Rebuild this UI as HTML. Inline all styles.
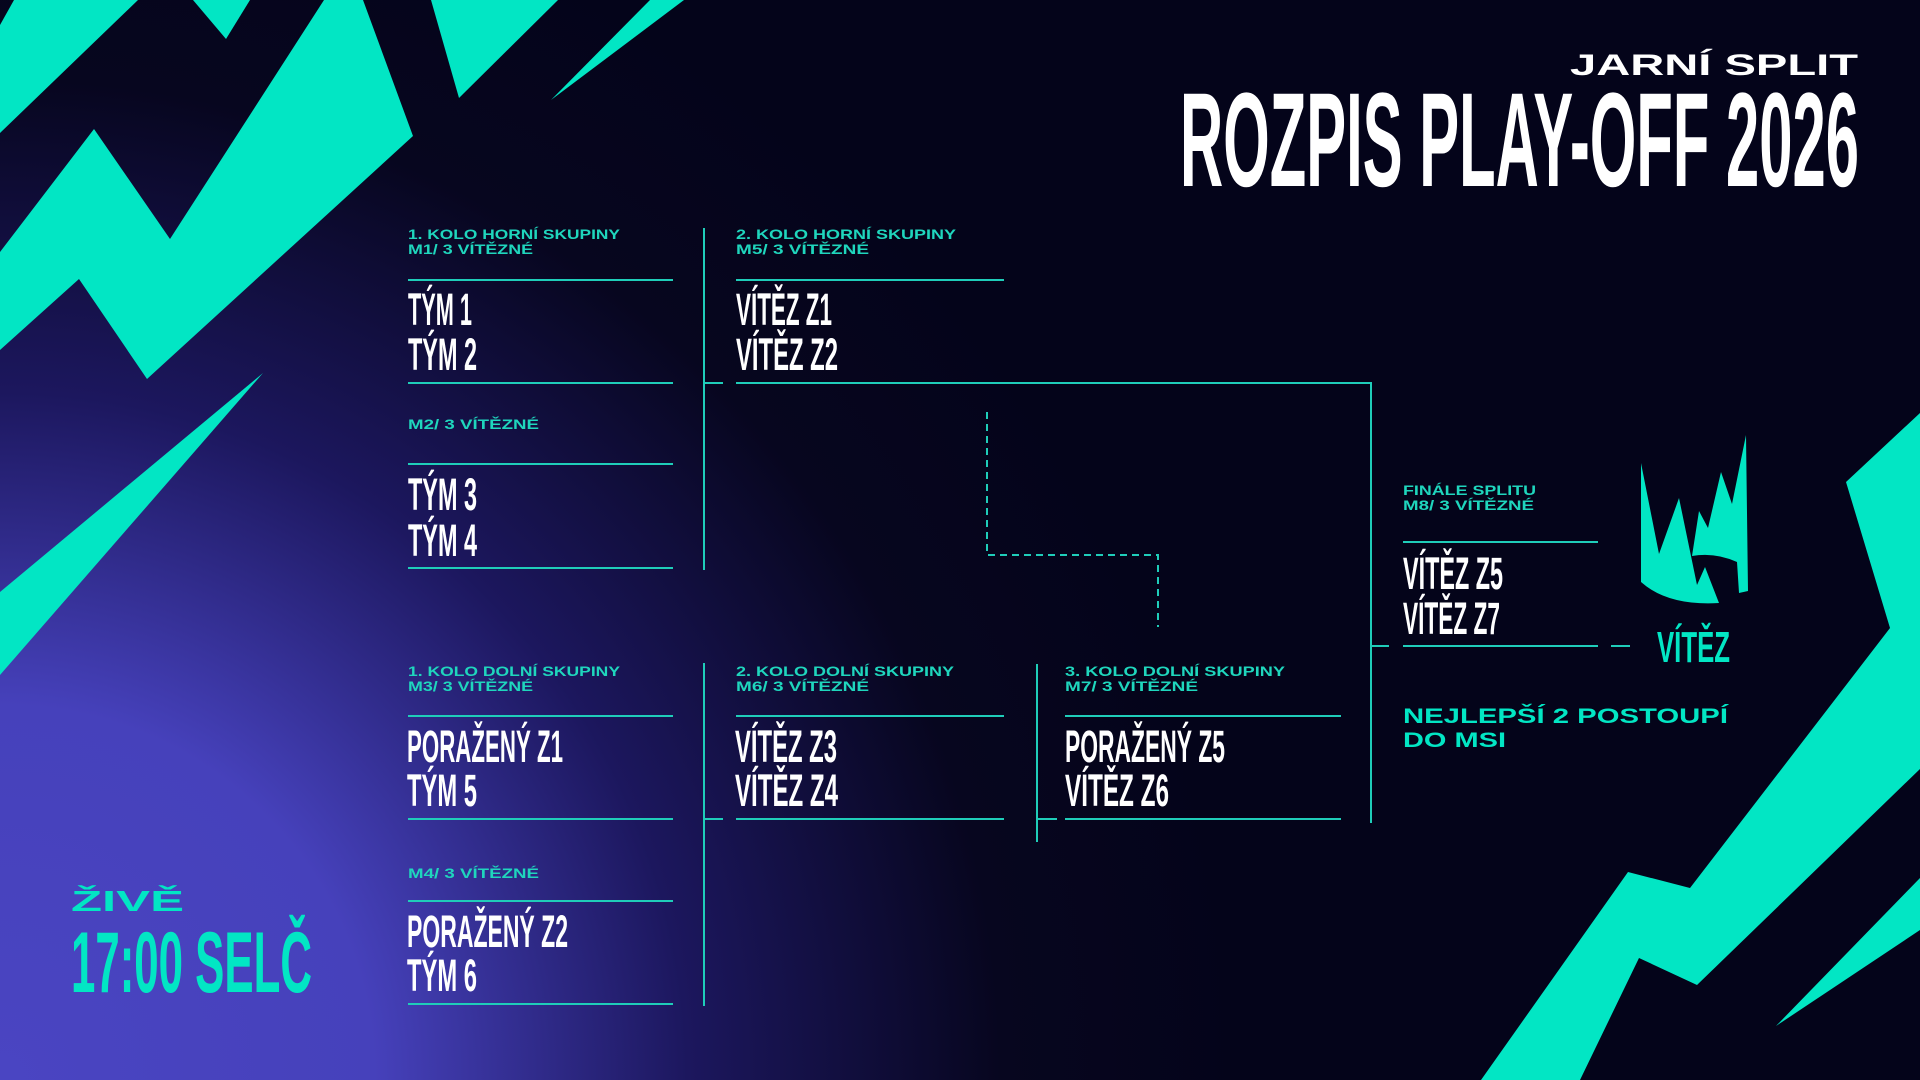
<!DOCTYPE html>
<html><head><meta charset="utf-8"><style>
html,body{margin:0;padding:0;width:1920px;height:1080px;overflow:hidden;background:#05051a}
svg{display:block}
.c{font-family:"Liberation Sans Narrow","Liberation Sans",sans-serif;font-weight:bold}
.w{font-family:"Liberation Sans",sans-serif;font-weight:bold}
</style></head><body>
<svg width="1920" height="1080" viewBox="0 0 1920 1080" xmlns="http://www.w3.org/2000/svg">
<defs>
<radialGradient id="bg" cx="0" cy="1080" r="1250" gradientUnits="userSpaceOnUse">
<stop offset="0" stop-color="#4a45c2"/>
<stop offset="0.3" stop-color="#4641bb"/>
<stop offset="0.55" stop-color="#1c175e"/>
<stop offset="0.8" stop-color="#07061f"/>
<stop offset="1" stop-color="#04041a"/>
</radialGradient>
</defs>
<rect width="1920" height="1080" fill="url(#bg)"/>
<g fill="#02e6c4">
<polygon points="14,0 138,0 0,133 0,25"/>
<polygon points="193,0 250,0 226,39"/>
<polygon points="0,252 94,129 170,239 324,0 363,0 413,136 147,379 79,279 0,350"/>
<polygon points="431,0 558,0 459,98"/>
<polygon points="650,0 684,0 551,100"/>
<polygon points="263,373 0,592 0,675"/>
<polygon points="1920,413 1846,482 1890,628 1690,888 1628,872 1481,1080 1580,1080 1639,958 1697,985 1920,769"/>
<polygon points="1920,878 1776,1026 1920,930"/>
<path d="M1641,463 L1659,554 L1679,498 L1697,585 L1705,567 L1719,603 Q1668,606 1641,582 Z"/>
<path d="M1692,556 L1699,511 L1708,528 L1721,472 L1732,504 L1746,435 L1748,591 L1739,593 L1737,562 Q1715,552 1692,556 Z"/>
</g>
<!-- title -->
<text class="w" x="1570" y="75" font-size="30" fill="#fff" textLength="288" lengthAdjust="spacingAndGlyphs">JARNÍ SPLIT</text>
<text class="c" x="1180" y="186" font-size="134" fill="#fff" textLength="679" lengthAdjust="spacingAndGlyphs">ROZPIS PLAY-OFF 2026</text>
<!-- lines -->
<g stroke="#1fcdb9" stroke-width="2" fill="none">
<line x1="408" y1="280" x2="673" y2="280"/><line x1="408" y1="383" x2="673" y2="383"/>
<line x1="408" y1="464" x2="673" y2="464"/><line x1="408" y1="568" x2="673" y2="568"/>
<line x1="408" y1="716" x2="673" y2="716"/><line x1="408" y1="819" x2="673" y2="819"/>
<line x1="408" y1="901" x2="673" y2="901"/><line x1="408" y1="1004" x2="673" y2="1004"/>
<line x1="704" y1="228" x2="704" y2="570"/><line x1="704" y1="383" x2="723" y2="383"/>
<line x1="704" y1="663" x2="704" y2="1006"/><line x1="704" y1="819" x2="723" y2="819"/>
<line x1="736" y1="280" x2="1004" y2="280"/><polyline points="736,383 1371,383 1371,823"/>
<line x1="736" y1="716" x2="1004" y2="716"/><line x1="736" y1="819" x2="1004" y2="819"/>
<line x1="1037" y1="664" x2="1037" y2="842"/><line x1="1037" y1="819" x2="1057" y2="819"/>
<line x1="1065" y1="716" x2="1341" y2="716"/><line x1="1065" y1="819" x2="1341" y2="819"/>
<line x1="1371" y1="646" x2="1389" y2="646"/>
<line x1="1403" y1="542" x2="1598" y2="542"/><line x1="1403" y1="646" x2="1598" y2="646"/>
<line x1="1611" y1="646" x2="1630" y2="646"/>
<polyline points="987,412 987,555 1158,555 1158,627" stroke-dasharray="7,5"/>
</g>
<!-- labels -->
<g class="w" fill="#1fd6bd" font-size="14">
<text x="408" y="239" textLength="212" lengthAdjust="spacingAndGlyphs">1. KOLO HORNÍ SKUPINY</text>
<text x="408" y="254" textLength="125" lengthAdjust="spacingAndGlyphs">M1/ 3 VÍTĚZNÉ</text>
<text x="408" y="429" textLength="131" lengthAdjust="spacingAndGlyphs">M2/ 3 VÍTĚZNÉ</text>
<text x="408" y="676" textLength="212" lengthAdjust="spacingAndGlyphs">1. KOLO DOLNÍ SKUPINY</text>
<text x="408" y="691" textLength="125" lengthAdjust="spacingAndGlyphs">M3/ 3 VÍTĚZNÉ</text>
<text x="408" y="878" textLength="131" lengthAdjust="spacingAndGlyphs">M4/ 3 VÍTĚZNÉ</text>
<text x="736" y="239" textLength="220" lengthAdjust="spacingAndGlyphs">2. KOLO HORNÍ SKUPINY</text>
<text x="736" y="254" textLength="133" lengthAdjust="spacingAndGlyphs">M5/ 3 VÍTĚZNÉ</text>
<text x="736" y="676" textLength="218" lengthAdjust="spacingAndGlyphs">2. KOLO DOLNÍ SKUPINY</text>
<text x="736" y="691" textLength="133" lengthAdjust="spacingAndGlyphs">M6/ 3 VÍTĚZNÉ</text>
<text x="1065" y="676" textLength="220" lengthAdjust="spacingAndGlyphs">3. KOLO DOLNÍ SKUPINY</text>
<text x="1065" y="691" textLength="133" lengthAdjust="spacingAndGlyphs">M7/ 3 VÍTĚZNÉ</text>
<text x="1403" y="495" textLength="133" lengthAdjust="spacingAndGlyphs">FINÁLE SPLITU</text>
<text x="1403" y="510" textLength="131" lengthAdjust="spacingAndGlyphs">M8/ 3 VÍTĚZNÉ</text>
</g>
<g class="w" fill="#02e6c4">
<text x="1403" y="723" font-size="21" textLength="325" lengthAdjust="spacingAndGlyphs">NEJLEPŠÍ 2 POSTOUPÍ</text>
<text x="1403" y="747" font-size="21" textLength="103" lengthAdjust="spacingAndGlyphs">DO MSI</text>
<text x="71" y="911" font-size="29" textLength="113" lengthAdjust="spacingAndGlyphs">ŽIVĚ</text>
</g>
<g class="c" fill="#02e6c4">
<text x="71" y="992" font-size="86" textLength="241" lengthAdjust="spacingAndGlyphs">17:00 SELČ</text>
<text x="1657" y="662" font-size="44" textLength="73" lengthAdjust="spacingAndGlyphs">VÍTĚZ</text>
</g>
<!-- teams -->
<g class="c" fill="#fff" font-size="45">
<text x="408" y="325" textLength="64" lengthAdjust="spacingAndGlyphs">TÝM 1</text>
<text x="408" y="370" textLength="69" lengthAdjust="spacingAndGlyphs">TÝM 2</text>
<text x="408" y="510" textLength="69" lengthAdjust="spacingAndGlyphs">TÝM 3</text>
<text x="408" y="556" textLength="69" lengthAdjust="spacingAndGlyphs">TÝM 4</text>
<text x="407" y="762" textLength="156" lengthAdjust="spacingAndGlyphs">PORAŽENÝ Z1</text>
<text x="407" y="806" textLength="70" lengthAdjust="spacingAndGlyphs">TÝM 5</text>
<text x="407" y="947" textLength="161" lengthAdjust="spacingAndGlyphs">PORAŽENÝ Z2</text>
<text x="407" y="991" textLength="70" lengthAdjust="spacingAndGlyphs">TÝM 6</text>
<text x="736" y="325" textLength="96" lengthAdjust="spacingAndGlyphs">VÍTĚZ Z1</text>
<text x="736" y="370" textLength="102" lengthAdjust="spacingAndGlyphs">VÍTĚZ Z2</text>
<text x="735" y="762" textLength="102" lengthAdjust="spacingAndGlyphs">VÍTĚZ Z3</text>
<text x="735" y="806" textLength="103" lengthAdjust="spacingAndGlyphs">VÍTĚZ Z4</text>
<text x="1065" y="762" textLength="160" lengthAdjust="spacingAndGlyphs">PORAŽENÝ Z5</text>
<text x="1065" y="806" textLength="104" lengthAdjust="spacingAndGlyphs">VÍTĚZ Z6</text>
<text x="1403" y="589" textLength="100" lengthAdjust="spacingAndGlyphs">VÍTĚZ Z5</text>
<text x="1403" y="634" textLength="97" lengthAdjust="spacingAndGlyphs">VÍTĚZ Z7</text>
</g>
</svg>
</body></html>
